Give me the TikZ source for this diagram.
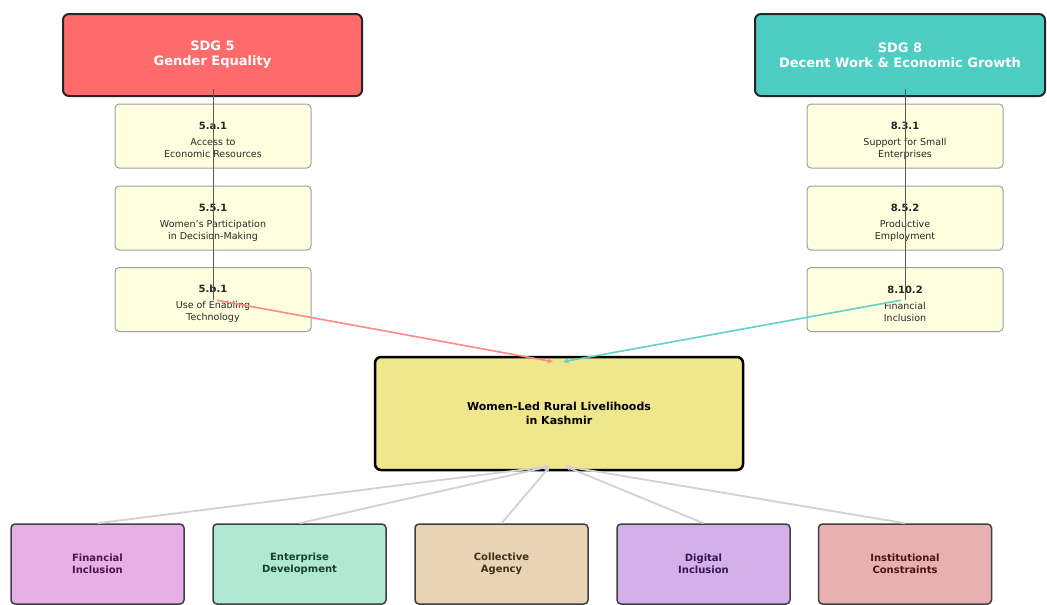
\documentclass[tikz,border=0pt]{standalone}
\usepackage{fontspec}
\setmainfont{DejaVu Sans}
\usetikzlibrary{arrows.meta}
\definecolor{sdgred}{HTML}{FF6B6B}
\definecolor{sdgteal}{HTML}{4ECDC4}
\definecolor{indfill}{HTML}{FFFFE0}
\definecolor{hubfill}{HTML}{F0E68C}
\definecolor{finfill}{HTML}{E6B0E6}
\definecolor{entfill}{HTML}{B0E8D4}
\definecolor{colfill}{HTML}{E8D4B4}
\definecolor{digfill}{HTML}{D4B0E8}
\definecolor{insfill}{HTML}{E8B0B0}
\definecolor{fintext}{HTML}{4A154A}
\definecolor{enttext}{HTML}{15402E}
\definecolor{coltext}{HTML}{40301A}
\definecolor{digtext}{HTML}{35155A}
\definecolor{instext}{HTML}{4A1515}
\tikzset{
  sdgbox/.style={draw=black!85, line width=2pt, rounded corners=6pt, minimum height=82pt,
    align=center, text=white, font=\bfseries\fontsize{13}{15}\selectfont},
  indbox/.style={draw=gray!75, fill=indfill, line width=1pt, rounded corners=4pt,
    minimum width=196pt, minimum height=64pt, align=center, text=black!85},
  hubbox/.style={draw=black, fill=hubfill, line width=2.5pt, rounded corners=6pt,
    minimum width=368pt, minimum height=113pt, align=center, font=\bfseries\fontsize{11}{14}\selectfont},
  themebox/.style={draw=black!75, line width=1.5pt, rounded corners=4pt,
    minimum width=173pt, minimum height=80pt, align=center, font=\bfseries\fontsize{10}{12}\selectfont},
  spine/.style={draw=gray!70!black, line width=0.7pt},
  feed/.style={line width=1.6pt, -{Stealth[length=6pt,width=5pt]}, shorten <=4pt},
  themelink/.style={draw=gray!35, line width=1.8pt, -{Stealth[length=6pt,width=5pt]}}
}
\newcommand{\indcode}[1]{\rule{0pt}{16pt}{\bfseries\fontsize{10}{12}\selectfont #1}}
\newcommand{\inddesc}{\fontsize{9.5}{12}\selectfont}
\begin{document}
\begin{tikzpicture}[x=1pt,y=-1pt]
  \useasboundingbox[fill=white] (0,0) rectangle (1047,605);
  % SDG goals
  \node[sdgbox, fill=sdgred, minimum width=299pt] (sdg5) at (212.5,55) {SDG 5\\Gender Equality};
  \node[sdgbox, fill=sdgteal, minimum width=290pt] (sdg8) at (900,55) {SDG 8\\Decent Work \& Economic Growth};
  % indicators
  \node[indbox] (i5a1) at (213,136) {\indcode{5.a.1}\\[4pt]\inddesc Access to\\\inddesc Economic Resources};
  \node[indbox] (i551) at (213,218) {\indcode{5.5.1}\\[4pt]\inddesc Women's Participation\\\inddesc in Decision-Making};
  \node[indbox] (i5b1) at (213,299.5) {\indcode{5.b.1}\\[4pt]\inddesc Use of Enabling\\\inddesc Technology};
  \node[indbox] (i831) at (905,136) {\indcode{8.3.1}\\[4pt]\inddesc Support for Small\\\inddesc Enterprises};
  \node[indbox] (i852) at (905,218) {\indcode{8.5.2}\\[4pt]\inddesc Productive\\\inddesc Employment};
  \node[indbox] (i8102) at (905,299.5) {\indcode{8.10.2}\\[4pt]\inddesc Financial\\\inddesc Inclusion};
  % central node
  \node[hubbox] (hub) at (559,413.5) {Women-Led Rural Livelihoods\\in Kashmir};
  % themes
  \node[themebox, fill=finfill, text=fintext] (fin) at (97.5,564) {Financial\\Inclusion};
  \node[themebox, fill=entfill, text=enttext] (ent) at (299.5,564) {Enterprise\\Development};
  \node[themebox, fill=colfill, text=coltext] (col) at (501.5,564) {Collective\\Agency};
  \node[themebox, fill=digfill, text=digtext] (dig) at (703.5,564) {Digital\\Inclusion};
  \node[themebox, fill=insfill, text=instext] (ins) at (905,564) {Institutional\\Constraints};
  % arrow ends on the central node
  \coordinate (hubinL) at ([shift={(-6pt,-6pt)}]hub.north);
  \coordinate (hubinR) at ([shift={(4pt,-6pt)}]hub.north);
  \coordinate (huboutL) at ([shift={(-9pt,5pt)}]hub.south);
  \coordinate (huboutR) at ([shift={(6pt,5pt)}]hub.south);
  \coordinate (s5top) at ([yshift=8pt]sdg5.south);
  \coordinate (s8top) at ([yshift=8pt]sdg8.south);
  % links
  \draw[spine] (s5top -| i5a1) -- (i5b1.center);
  \draw[spine] (s8top -| i831) -- (i8102.center);
  \draw[feed, sdgred!80] (i5b1.center) -- (hubinL);
  \draw[feed, sdgteal!90] (i8102.center) -- (hubinR);
  \foreach \t in {fin,ent,col}
    \draw[themelink] (\t.north) -- (huboutL);
  \foreach \t in {dig,ins}
    \draw[themelink] (\t.north) -- (huboutR);
\end{tikzpicture}
\end{document}
